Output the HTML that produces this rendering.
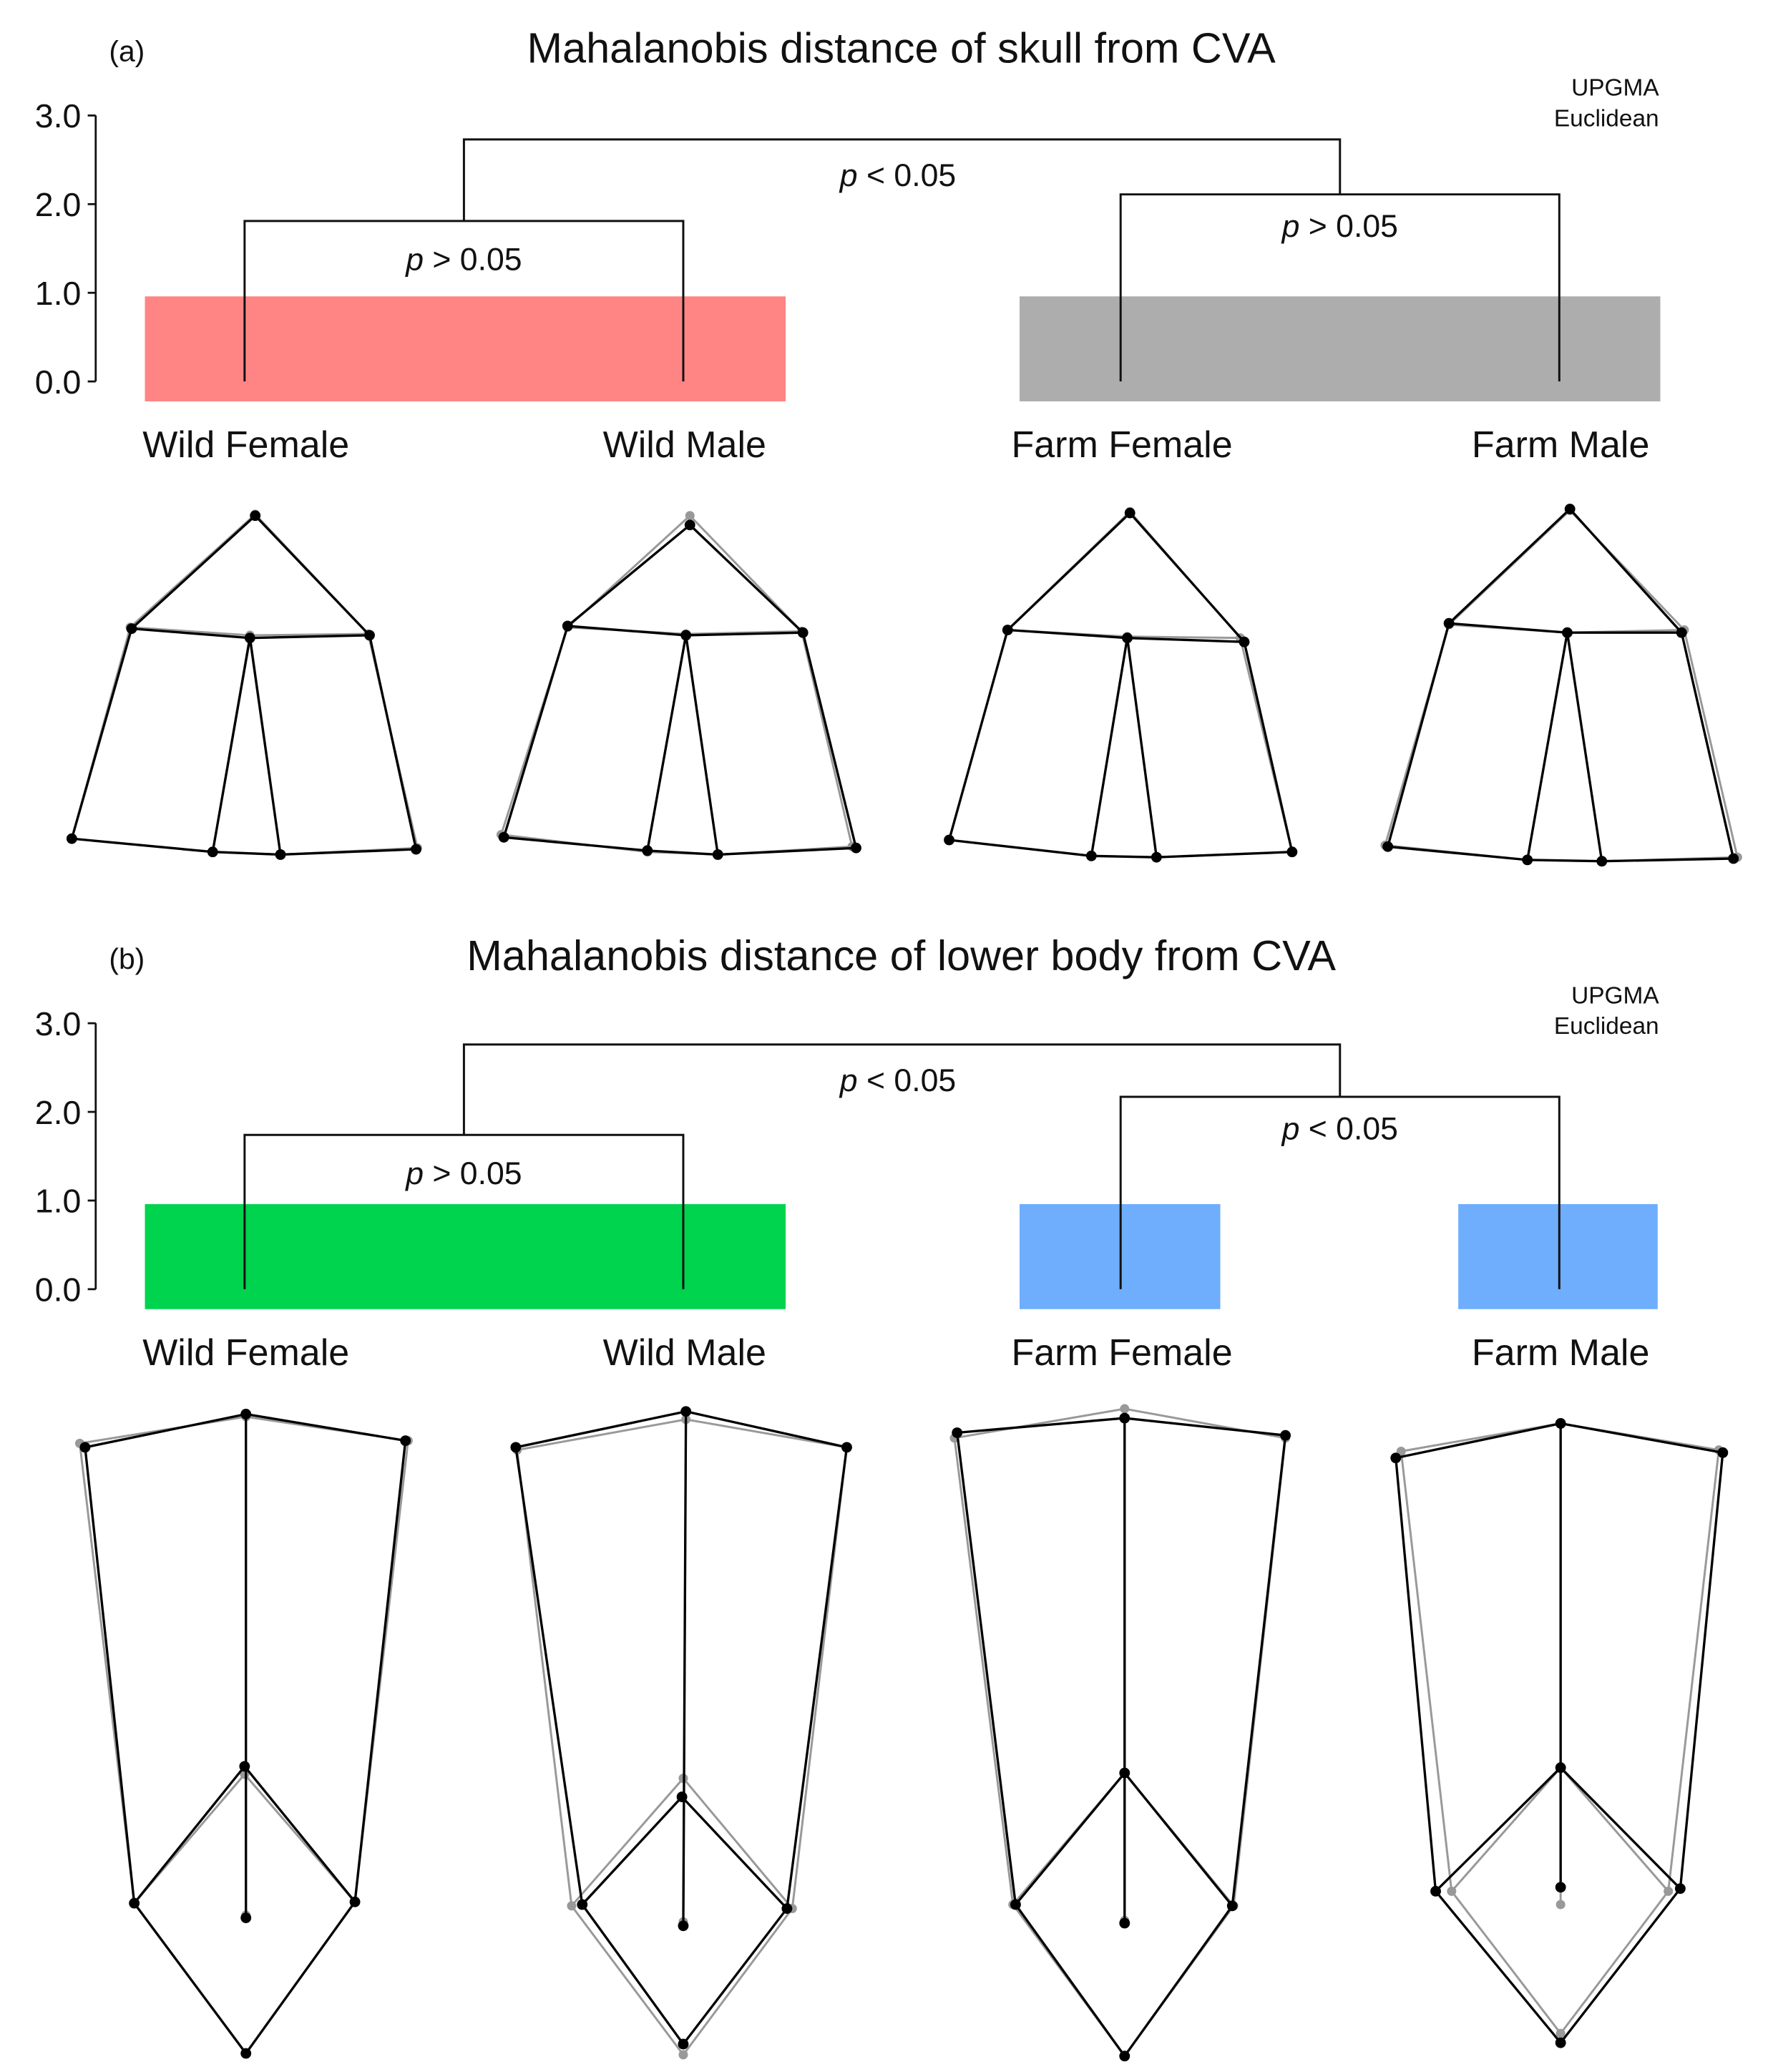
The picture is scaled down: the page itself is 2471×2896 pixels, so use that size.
<!DOCTYPE html>
<html><head><meta charset="utf-8"><style>
html,body{margin:0;padding:0;background:#fff}
svg{display:block}
text{font-family:"Liberation Sans",sans-serif;fill:#111}
</style></head><body>
<svg id="fig" width="2471" height="2896" viewBox="0 0 1330 1559" preserveAspectRatio="none" xmlns="http://www.w3.org/2000/svg"></svg>
<script>
// ---- data ----
const categories = ["Wild Female","Wild Male","Farm Female","Farm Male"];
const yTicks = [0,1,2,3];
const tickLabels = ["0.0","1.0","2.0","3.0"];
const titlesA = "Mahalanobis distance of skull from CVA";
const titlesB = "Mahalanobis distance of lower body from CVA";
// merge heights: [wild pair, farm pair, root]
const mergeA = [1.81, 2.11, 2.73];
const mergeB = [1.74, 2.17, 2.76];
const pLabelsA = ["p > 0.05","p > 0.05","p < 0.05"];
const pLabelsB = ["p > 0.05","p < 0.05","p < 0.05"];
// skull landmarks (black / grey consensus), order: top,L,M,R,BL,B1,B2,BR
const skullBlack = [
 [[192,388],[99,473],[188,480],[278,478],[54,631],[160,641],[211,643],[313,639]],
 [[519,395],[427,471],[516,478],[604,476],[379,630],[487,640],[540,643],[644,638]],
 [[850,386],[758,474],[848,480],[936,483],[714,632],[821,644],[870,645],[972,641]],
 [[1181,383],[1090,469],[1179,476],[1265,476],[1044,637],[1149,647],[1205,648],[1304,646]]];
const skullGrey = [
 [[192,387],[98,472],[188,478],[277,477],[54,631],[160,641],[211,643],[314,638]],
 [[519,388],[427,472],[516,477],[603,475],[377,628],[487,641],[540,643],[641,637]],
 [[850,385],[758,474],[848,479],[933,480],[714,632],[821,644],[870,645],[972,641]],
 [[1181,384],[1090,470],[1179,476],[1267,474],[1042,636],[1149,647],[1205,648],[1307,645]]];
const skullEdges = [[0,1],[0,3],[1,2],[2,3],[1,4],[3,7],[2,5],[2,6],[4,5],[5,6],[6,7]];
// lower body landmarks: T,LT,RT,M,LD,RD,B,C
const bodyBlack = [
 [[185,1064],[64,1089],[305,1084],[184,1329],[101,1432],[267,1431],[185,1545],[185,1443]],
 [[516,1062],[388,1089],[637,1089],[513,1352],[438,1433],[592,1436],[514,1538],[514,1449]],
 [[846,1067],[720,1078],[967,1080],[846,1334],[764,1433],[927,1434],[846,1547],[846,1447]],
 [[1174,1071],[1050,1097],[1296,1093],[1174,1330],[1080,1423],[1264,1421],[1174,1537],[1174,1420]]];
const bodyGrey = [
 [[185,1066],[60,1086],[307,1084],[184,1335],[101,1432],[267,1431],[185,1545],[185,1441]],
 [[516,1068],[389,1091],[637,1089],[514,1338],[430,1434],[596,1436],[514,1546],[514,1446]],
 [[846,1060],[718,1082],[967,1082],[846,1334],[762,1433],[928,1434],[846,1547],[846,1445]],
 [[1174,1071],[1054,1092],[1293,1091],[1174,1330],[1092,1423],[1255,1423],[1174,1530],[1174,1433]]];
const bodyEdges = [[1,0],[0,2],[0,7],[1,4],[2,5],[3,4],[3,5],[4,6],[5,6]];

const NS="http://www.w3.org/2000/svg";
const svg=document.getElementById('fig');
const leafX=[184,514,843,1173];
function mk(tag,attrs,parent){const e=document.createElementNS(NS,tag);for(const k in attrs)e.setAttribute(k,attrs[k]);(parent||svg).appendChild(e);return e;}
function txt(s,x,y,size,anchor,parent){const t=mk('text',{x:x,y:y,'font-size':size,'text-anchor':anchor||'middle'},parent);t.textContent=s;return t;}

function panel(off,letter,title,merge,pl,boxes,name){
  const g=mk('g',{});
  
  
  const y=v=>off+287-v*66.7;
  const lt=txt(letter,82,off+46,22,'start',g);
  
  const tt=txt(title,678,off+47,32,'middle',g);
  
  const u=txt('UPGMA',1248,off+72,18,'end',g);
  const e=txt('Euclidean',1248,off+95,18,'end',g);
  // boxes
  boxes.forEach(b=>{const r=mk('rect',{x:b[0],y:off+223,width:b[1]-b[0],height:79,fill:b[2]},g);
    });
  // axis
  const ax=mk('line',{x1:72,x2:72,y1:y(3),y2:y(0),stroke:'#111','stroke-width':1.5},g);
  
  yTicks.forEach((v,i)=>{mk('line',{x1:66,x2:72,y1:y(v),y2:y(v),stroke:'#111','stroke-width':1.5},g);
    const t=txt(tickLabels[i],61,y(v)+9,25,'end',g);});
  // dendrogram
  const mW=(leafX[0]+leafX[1])/2, mF=(leafX[2]+leafX[3])/2;
  const d=`M${leafX[0]},${y(0)}V${y(merge[0])}H${leafX[1]}V${y(0)}M${leafX[2]},${y(0)}V${y(merge[1])}H${leafX[3]}V${y(0)}M${mW},${y(merge[0])}V${y(merge[2])}H${mF}V${y(merge[1])}`;
  const p=mk('path',{d:d,fill:'none',stroke:'#111','stroke-width':1.6},g);
  
  const pos=[[mW,y(merge[0])+37],[mF,y(merge[1])+32],[(mW+mF)/2-3,y(merge[2])+35]];
  pl.forEach((s,i)=>{const t=mk('text',{x:pos[i][0],y:pos[i][1],'font-size':24,'text-anchor':'middle'},g);
    
    const a=mk('tspan',{'font-style':'italic'},t);a.textContent='p';const b=mk('tspan',{},t);b.textContent=s.slice(1);});
  categories.forEach((c,i)=>{const t=txt(c,leafX[i]+1,off+344,28,'middle',g);
    });
}
panel(0,'(a)',titlesA,mergeA,pLabelsA,[[109,591,'#ff8585'],[767,1249,'#adadad']],'panel-a');
panel(683,'(b)',titlesB,mergeB,pLabelsB,[[109,591,'#00d34e'],[767,918,'#6eaefc'],[1097,1247,'#6eaefc']],'panel-b');
// shapes
function shapes(black,grey,edges,name){
  black.forEach((pts,i)=>{const g=mk('g',{});
    
    
    [[grey[i],'#999',1.6,3.5],[pts,'#000',1.8,4]].forEach(([P,col,w,r])=>{
      edges.forEach(([a,b])=>mk('line',{x1:P[a][0],y1:P[a][1],x2:P[b][0],y2:P[b][1],stroke:col,'stroke-width':w},g));
      P.forEach(q=>mk('circle',{cx:q[0],cy:q[1],r:r,fill:col},g));
    });
  });
}
shapes(skullBlack,skullGrey,skullEdges,'skull-wireframe');
shapes(bodyBlack,bodyGrey,bodyEdges,'body-wireframe');
</script>
</body></html>
